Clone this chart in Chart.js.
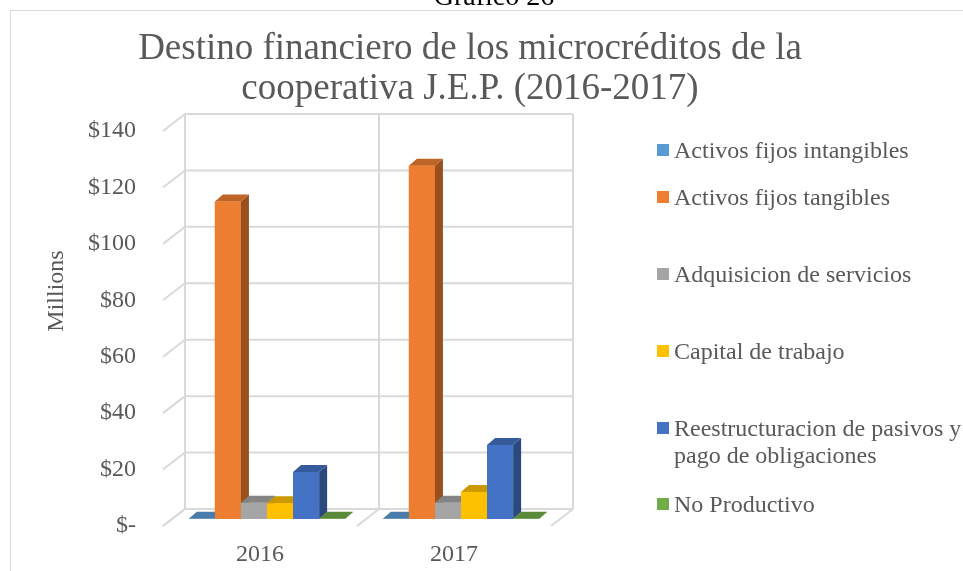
<!DOCTYPE html>
<html>
<head>
<meta charset="utf-8">
<title>Destino financiero de los microcréditos</title>
<script src="https://cdn.jsdelivr.net/npm/chart.js@4.4.0/dist/chart.umd.min.js"></script>
<style>
  html, body { margin: 0; padding: 0; background: #fff; }
  #wrap { width: 963px; height: 571px; position: relative; }
</style>
</head>
<body>
<div id="wrap"><canvas id="destinoChart" width="963" height="571"></canvas></div>
<script>
// Datos (millones de USD)
const years = ['2016', '2017'];
const seriesNames = [
  'Activos fijos intangibles',
  'Activos fijos tangibles',
  'Adquisicion de servicios',
  'Capital de trabajo',
  'Reestructuracion de pasivos y pago de obligaciones',
  'No Productivo'
];
const intangibles = [0.1, 0.1];
const tangibles = [112.5, 125.2];
const servicios = [5.8, 5.8];
const capital = [5.6, 9.6];
const reestructuracion = [16.7, 26.2];
const noProductivo = [0.1, 0.1];
const yTicks = [0, 20, 40, 60, 80, 100, 120, 140];
const yTickLabels = ['$-', '$20', '$40', '$60', '$80', '$100', '$120', '$140'];
const seriesColors = ['#5B9BD5', '#ED7D31', '#A5A5A5', '#FFC000', '#4472C4', '#70AD47'];

const SERIF = '"Liberation Serif", "Times New Roman", serif';
const TEXT = '#595959';
const GRID = '#d9d9d9';
// desplazamientos de la perspectiva
const BACK = { dx: 15, dy: -10 };
const FRONT = { dx: -7, dy: 7 };
const BAR_DEPTH = { dx: 8, dy: -7 };

const shade = (hex, f) => {
  const n = parseInt(hex.slice(1), 16);
  const r = Math.round(((n >> 16) & 255) * f);
  const g = Math.round(((n >> 8) & 255) * f);
  const b = Math.round((n & 255) * f);
  return `rgb(${r},${g},${b})`;
};

const line = (ctx, x1, y1, x2, y2) => {
  ctx.beginPath();
  ctx.moveTo(x1, y1);
  ctx.lineTo(x2, y2);
  ctx.stroke();
};

// Paredes y suelo en 3D
const wall3d = {
  id: 'wall3d',
  beforeDatasetsDraw(chart) {
    const { ctx, chartArea: a, scales: { x: xs, y: ys } } = chart;
    ctx.save();
    ctx.strokeStyle = GRID;
    ctx.lineWidth = 2;
    yTicks.forEach(v => {
      const p = ys.getPixelForValue(v);
      line(ctx, a.left + BACK.dx, p + BACK.dy, a.right + BACK.dx, p + BACK.dy);
      line(ctx, a.left + BACK.dx, p + BACK.dy, a.left + FRONT.dx, p + FRONT.dy);
    });
    const top = ys.getPixelForValue(yTicks[yTicks.length - 1]);
    const zero = ys.getPixelForValue(0);
    const edges = [a.left, (xs.getPixelForValue(0) + xs.getPixelForValue(1)) / 2, a.right];
    edges.forEach(ex => {
      line(ctx, ex + BACK.dx, top + BACK.dy, ex + BACK.dx, zero + BACK.dy);
      line(ctx, ex + BACK.dx, zero + BACK.dy, ex + FRONT.dx, zero + FRONT.dy);
    });
    ctx.restore();
  }
};

// Caras laterales y superiores de las barras
const bars3d = {
  id: 'bars3d',
  afterDatasetsDraw(chart) {
    const ctx = chart.ctx;
    const { dx, dy } = BAR_DEPTH;
    ctx.save();
    for (let j = 0; j < years.length; j++) {
      chart.data.datasets.forEach((ds, i) => {
        const bar = chart.getDatasetMeta(i).data[j];
        const { x, y, base, width } = bar.getProps(['x', 'y', 'base', 'width'], true);
        const l = x - width / 2, r = x + width / 2;
        ctx.fillStyle = shade(ds.backgroundColor, 0.64);
        ctx.beginPath();
        ctx.moveTo(r, y); ctx.lineTo(r + dx, y + dy);
        ctx.lineTo(r + dx, base + dy); ctx.lineTo(r, base);
        ctx.closePath(); ctx.fill();
        ctx.fillStyle = shade(ds.backgroundColor, 0.8);
        ctx.beginPath();
        ctx.moveTo(l, y); ctx.lineTo(r, y);
        ctx.lineTo(r + dx, y + dy); ctx.lineTo(l + dx, y + dy);
        ctx.closePath(); ctx.fill();
        bar.draw(ctx);
      });
    }
    ctx.restore();
  }
};

// Textos: encabezado, titulo, eje y leyenda
const texts = {
  id: 'texts',
  beforeDraw(chart) {
    const ctx = chart.ctx;
    ctx.save();
    ctx.strokeStyle = GRID;
    ctx.lineWidth = 1;
    line(ctx, 10.5, 10.5, 963, 10.5);
    line(ctx, 10.5, 10.5, 10.5, 571);
    ctx.restore();
  },
  afterDraw(chart) {
    const ctx = chart.ctx;
    ctx.save();
    ctx.textAlign = 'center';
    ctx.textBaseline = 'alphabetic';
    ctx.fillStyle = '#000';
    ctx.font = `28px ${SERIF}`;
    ctx.fillText('Gráfico 26', 494, 5);

    ctx.fillStyle = TEXT;
    ctx.font = `37px ${SERIF}`;
    ctx.fillText('Destino financiero de los microcréditos de la', 470, 59);
    ctx.fillText('cooperativa J.E.P. (2016-2017)', 470, 99);

    ctx.save();
    ctx.translate(57, 291);
    ctx.rotate(-Math.PI / 2);
    ctx.font = `24px ${SERIF}`;
    ctx.textBaseline = 'middle';
    ctx.fillText('Millions', 0, 0);
    ctx.restore();

    const legendY = [150, 197, 274, 351, 428, 504];
    ctx.font = `24px ${SERIF}`;
    ctx.textAlign = 'left';
    ctx.textBaseline = 'middle';
    chart.data.datasets.forEach((ds, i) => {
      const cy = legendY[i];
      ctx.fillStyle = ds.backgroundColor;
      ctx.fillRect(657, cy - 6, 12, 12);
      ctx.fillStyle = TEXT;
      const words = ds.label.split(' ');
      const rows = [];
      let cur = '';
      words.forEach(w => {
        const t = cur ? cur + ' ' + w : w;
        if (ctx.measureText(t).width > 300 && cur) { rows.push(cur); cur = w; } else { cur = t; }
      });
      rows.push(cur);
      rows.forEach((row, k) => ctx.fillText(row, 674, cy + 2 + k * 27));
    });
    ctx.restore();
  }
};

const seriesData = [intangibles, tangibles, servicios, capital, reestructuracion, noProductivo];

new Chart(document.getElementById('destinoChart'), {
  type: 'bar',
  data: {
    labels: years,
    datasets: seriesNames.map((name, i) => ({
      label: name,
      data: seriesData[i],
      backgroundColor: seriesColors[i],
      borderWidth: 0,
      categoryPercentage: 0.806,
      barPercentage: 1
    }))
  },
  options: {
    responsive: false,
    animation: false,
    layout: { padding: { left: 0, top: 124, right: 405, bottom: 0 } },
    plugins: {
      legend: { display: false },
      title: { display: false },
      tooltip: { enabled: false }
    },
    scales: {
      x: {
        grid: { display: false, drawTicks: false },
        border: { display: false },
        ticks: {
          color: TEXT,
          font: { family: SERIF, size: 24 },
          padding: 21,
          labelOffset: -7
        },
        afterFit: s => { s.height = 52; }
      },
      y: {
        min: 0,
        max: 140,
        grid: { display: false, drawTicks: false },
        border: { display: false },
        afterBuildTicks: s => { s.ticks = yTicks.map(v => ({ value: v })); },
        ticks: {
          color: TEXT,
          font: { family: SERIF, size: 24 },
          padding: 34,
          labelOffset: 7,
          callback: (v, idx) => yTickLabels[idx]
        },
        afterFit: s => { s.width = 170; }
      }
    }
  },
  plugins: [wall3d, bars3d, texts]
});
</script>
</body>
</html>
